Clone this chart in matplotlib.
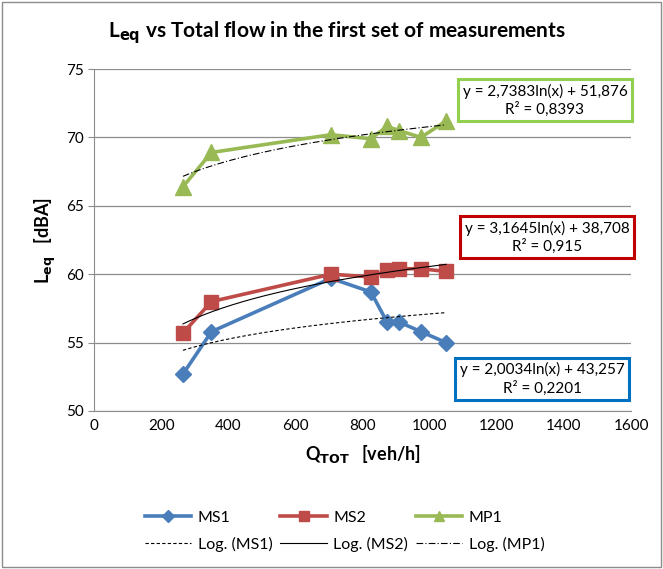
import numpy as np
import matplotlib.pyplot as plt
from matplotlib.lines import Line2D
from matplotlib.patches import Rectangle

plt.rcParams['font.family'] = ['Lato', 'DejaVu Sans']

# data
flow = [265, 350, 706, 825, 873, 909, 974, 1049]
ms1 = [52.7, 55.8, 59.7, 58.7, 56.5, 56.5, 55.8, 55.0]
ms2 = [55.7, 58.0, 60.0, 59.8, 60.3, 60.4, 60.4, 60.2]
mp1 = [66.4, 68.9, 70.2, 69.9, 70.8, 70.5, 70.0, 71.2]

# log trend coefficients as printed on the chart (y = a ln(x) + b)
fit_ms1 = (2.0034, 43.257, '0,2201')
fit_ms2 = (3.1645, 38.708, '0,915')
fit_mp1 = (2.7383, 51.876, '0,8393')

c_ms1, c_ms2, c_mp1 = '#4A7EBB', '#BE4B48', '#98B954'

fig = plt.figure(figsize=(6.63, 5.69), dpi=100)
ax = fig.add_axes([0.1418, 0.2777, 0.81, 0.601])

xx = np.linspace(min(flow), max(flow), 200)
ax.plot(xx, fit_ms1[0] * np.log(xx) + fit_ms1[1], color='black', lw=0.8, ls=(0, (3, 2)), zorder=4)
ax.plot(xx, fit_ms2[0] * np.log(xx) + fit_ms2[1], color='black', lw=0.8, ls='-', zorder=4)
ax.plot(xx, fit_mp1[0] * np.log(xx) + fit_mp1[1], color='black', lw=0.8, ls=(0, (6, 2, 1, 2)), zorder=4)

ax.plot(flow, ms1, color=c_ms1, lw=2.6, marker='D', ms=8, zorder=3)
ax.plot(flow, ms2, color=c_ms2, lw=2.6, marker='s', ms=10, zorder=3)
ax.plot(flow, mp1, color=c_mp1, lw=2.6, marker='^', ms=11, zorder=3)

ax.set_xlim(0, 1600)
ax.set_ylim(50, 75)
ax.set_xticks(range(0, 1601, 200))
ax.set_yticks(range(50, 76, 5))
ax.yaxis.grid(True, color='#8C8C8C', lw=0.9)
ax.set_axisbelow(True)
for s in ['top', 'right']:
    ax.spines[s].set_visible(False)
for s in ['left', 'bottom']:
    ax.spines[s].set_color('#8C8C8C')
ax.tick_params(axis='both', labelsize=11, color='#8C8C8C', length=4)
ax.tick_params(axis='x', length=0, pad=6)

ax.set_xlabel(r'Q$_{\mathbf{TOT}}$   [veh/h]', fontsize=13, fontweight='bold', labelpad=7)
ax.set_ylabel(r'L$_{\mathbf{eq}}$   [dBA]', fontsize=13, fontweight='bold', labelpad=6)
fig.text(0.508, 0.942, r'L$_{\mathbf{eq}}$ vs Total flow in the first set of measurements',
         ha='center', va='center', fontsize=15, fontweight='bold')

def eq_box(x, y, fit, edge):
    txt = 'y = %sln(x) + %s\nR² = %s' % (str(fit[0]).replace('.', ','),
                                         str(fit[1]).replace('.', ','), fit[2])
    fig.text(x, y, txt, ha='center', va='center', fontsize=11, linespacing=1.25,
             bbox=dict(boxstyle='square,pad=0.3', fc='white', ec=edge, lw=2.2))

eq_box(0.822, 0.824, fit_mp1, '#92D050')
eq_box(0.825, 0.583, fit_ms2, '#C00000')
eq_box(0.818, 0.334, fit_ms1, '#0070C0')

handles = [
    Line2D([], [], color=c_ms1, lw=2.6, marker='D', ms=6),
    Line2D([], [], color='black', lw=0.8, ls=(0, (3, 2))),
    Line2D([], [], color=c_ms2, lw=2.6, marker='s', ms=7),
    Line2D([], [], color='black', lw=0.8, ls='-'),
    Line2D([], [], color=c_mp1, lw=2.6, marker='^', ms=7),
    Line2D([], [], color='black', lw=0.8, ls=(0, (6, 2, 1, 2))),
]
labels = ['MS1', 'Log. (MS1)', 'MS2', 'Log. (MS2)', 'MP1', 'Log. (MP1)']
fig.legend(handles, labels, ncol=3, loc='center', bbox_to_anchor=(0.52, 0.066),
           frameon=False, fontsize=11.5, handlelength=2.9, columnspacing=0.5,
           handletextpad=0.4, labelspacing=0.75)

fig.patches.append(Rectangle((0.003, 0.003), 0.994, 0.994, transform=fig.transFigure,
                             fill=False, ec='#8C8C8C', lw=1))

fig.savefig('out.png', dpi=100)
